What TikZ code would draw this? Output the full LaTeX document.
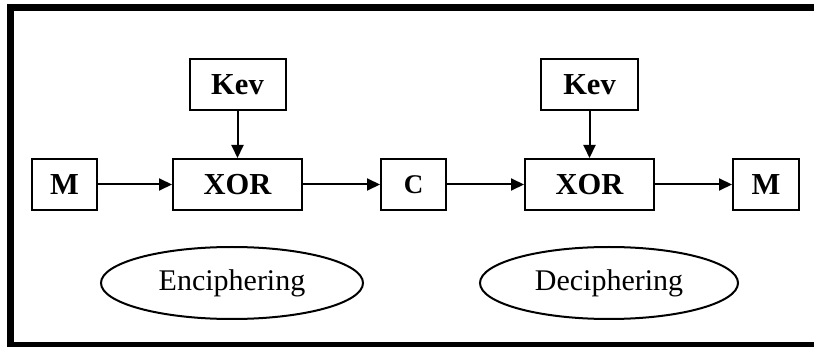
\documentclass[tikz,border=0pt]{standalone}
\usepackage{fontspec}
\setmainfont{Liberation Serif}
\usetikzlibrary{arrows.meta,shapes.geometric}
\begin{document}
\begin{tikzpicture}[x=1pt,y=-1pt,
  blk/.style={draw,line width=2pt,inner sep=0pt,font=\fontsize{30.5}{32}\selectfont\bfseries},
  oval/.style={draw,ellipse,line width=2pt,inner sep=0pt,font=\fontsize{30}{32}\selectfont},
  arr/.style={line width=2pt,-{Triangle[length=13pt,width=12pt]}}]
\useasboundingbox (0,0) rectangle (814,347);
\fill[black] (7,4) rectangle (14,347);
\fill[black] (7,4) rectangle (814,11);
\fill[black] (7,342) rectangle (814,347);
\node[blk,minimum width=65pt,minimum height=51pt] (m1) at (64.5,184.5) {M};
\node[blk,minimum width=129pt,minimum height=51pt] (x1) at (237.5,184.5) {XOR};
\node[blk,minimum width=96pt,minimum height=51pt] (k1) at (237.5,84.5) {Kev};
\node[blk,minimum width=65pt,minimum height=51pt,font=\fontsize{27}{28}\selectfont\bfseries] (c) at (413.5,184.5) {C};
\node[blk,minimum width=97pt,minimum height=51pt] (k2) at (589.5,84.5) {Kev};
\node[blk,minimum width=129pt,minimum height=51pt] (x2) at (589.5,184.5) {XOR};
\node[blk,minimum width=66pt,minimum height=51pt] (m2) at (766,184.5) {M};
\node[oval,minimum width=262pt,minimum height=72pt] (e1) at (232,283) {Enciphering};
\node[oval,minimum width=258pt,minimum height=72pt] (e2) at (609,283) {Deciphering};
\draw[arr] (m1) -- (x1);
\draw[arr] (k1) -- (x1);
\draw[arr] (x1) -- (c);
\draw[arr] (c) -- (x2);
\draw[arr] (k2) -- (x2);
\draw[arr] (x2) -- (m2);
\end{tikzpicture}
\end{document}
